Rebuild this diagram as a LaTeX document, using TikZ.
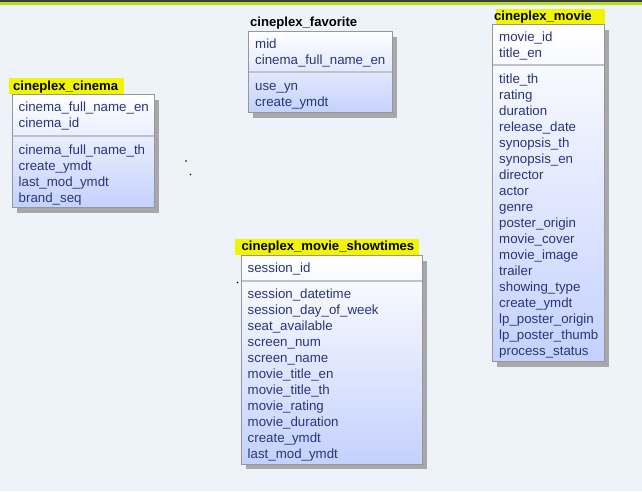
\documentclass[tikz,border=0pt]{standalone}
\usepackage{fontspec}
\setmainfont{Liberation Sans}
\usetikzlibrary{shadows}
\definecolor{bgblue}{RGB}{238,243,250}
\definecolor{darkbar}{RGB}{60,60,60}
\definecolor{greenbar}{RGB}{178,222,30}
\definecolor{boxgray}{RGB}{150,150,155}
\definecolor{shadowgray}{RGB}{168,168,170}
\definecolor{boxblue}{RGB}{196,209,252}
\definecolor{rowblue}{RGB}{40,54,120}
\definecolor{sepgray}{RGB}{190,193,202}
\definecolor{labelyellow}{RGB}{242,245,0}
\tikzset{
  tbl/.style={draw=boxgray, line width=1pt, top color=white, bottom color=boxblue,
    inner sep=0pt, anchor=north west,
    drop shadow={shadow xshift=4pt, shadow yshift=-5pt, fill=shadowgray, opacity=1}},
  row/.style={anchor=base west, inner sep=0pt, font=\fontsize{13.3}{13.3}\selectfont, text=rowblue},
  title/.style={anchor=base west, inner sep=0pt, font=\bfseries\fontsize{13.1}{13.1}\selectfont, text=black},
  sepline/.style={draw=sepgray, line width=2pt},
  hilite/.style={fill=labelyellow}
}
\begin{document}
\begin{tikzpicture}[x=1pt,y=-1pt]
\useasboundingbox (0,0) rectangle (642,491);
\fill[bgblue] (0,0) rectangle (642,491);
\fill[darkbar] (0,0) rectangle (642,1.5);
\fill[greenbar] (0,1.5) rectangle (642,5);

% ---------- cineplex_cinema ----------
\fill[hilite] (9,78) rectangle (124,94);
\node[title] (tcinema) at (13,90) {cineplex\_cinema};
\node[tbl, minimum width=142pt, minimum height=113pt] (cinema) at (12,94) {};
\draw[sepline] (12.5,135.5) -- (153.5,135.5);
\foreach \t [count=\i from 0] in {cinema\_full\_name\_en, cinema\_id}
  \node[row] (ck\i) at (18.5,111+16*\i) {\t};
\foreach \t [count=\i from 0] in {cinema\_full\_name\_th, create\_ymdt, last\_mod\_ymdt, brand\_seq}
  \node[row] (cr\i) at (18.5,154+16*\i) {\t};

% ---------- cineplex_favorite ----------
\node[title] (tfav) at (250,26) {cineplex\_favorite};
\node[tbl, minimum width=144pt, minimum height=81pt] (fav) at (248,31) {};
\draw[sepline] (248.5,72) -- (391.5,72);
\foreach \t [count=\i from 0] in {mid, cinema\_full\_name\_en}
  \node[row] (fk\i) at (255,48+16*\i) {\t};
\foreach \t [count=\i from 0] in {use\_yn, create\_ymdt}
  \node[row] (fr\i) at (255,90.5+16*\i) {\t};

% ---------- cineplex_movie ----------
\fill[hilite] (496,9) rectangle (605,24);
\node[title] (tmovie) at (494,20) {cineplex\_movie};
\node[tbl, minimum width=112pt, minimum height=337pt] (movie) at (492,24) {};
\draw[sepline] (492.5,64.5) -- (603.5,64.5);
\foreach \t [count=\i from 0] in {movie\_id, title\_en}
  \node[row] (mk\i) at (499,41+16*\i) {\t};
\foreach \t [count=\i from 0] in {title\_th, rating, duration, release\_date, synopsis\_th,
    synopsis\_en, director, actor, genre, poster\_origin, movie\_cover, movie\_image,
    trailer, showing\_type, create\_ymdt, lp\_poster\_origin, lp\_poster\_thumb, process\_status}
  \node[row] (mr\i) at (499,83.5+16*\i) {\t};

% ---------- cineplex_movie_showtimes ----------
\fill[hilite] (235,239) rectangle (419,255);
\node[title] (tshow) at (241.5,250) {cineplex\_movie\_showtimes};
\node[tbl, minimum width=181pt, minimum height=208.5pt] (show) at (241,255) {};
\draw[sepline] (241.5,281) -- (421.5,281);
\node[row] (sk0) at (247.5,272) {session\_id};
\foreach \t [count=\i from 0] in {session\_datetime, session\_day\_of\_week, seat\_available,
    screen\_num, screen\_name, movie\_title\_en, movie\_title\_th, movie\_rating,
    movie\_duration, create\_ymdt, last\_mod\_ymdt}
  \node[row] (sr\i) at (247.5,298.5+16*\i) {\t};

% stray dots
\fill[black] (186,161) circle (0.8);
\fill[black] (190.5,174.5) circle (0.8);
\fill[black] (237.5,282.5) circle (0.8);
\end{tikzpicture}
\end{document}
